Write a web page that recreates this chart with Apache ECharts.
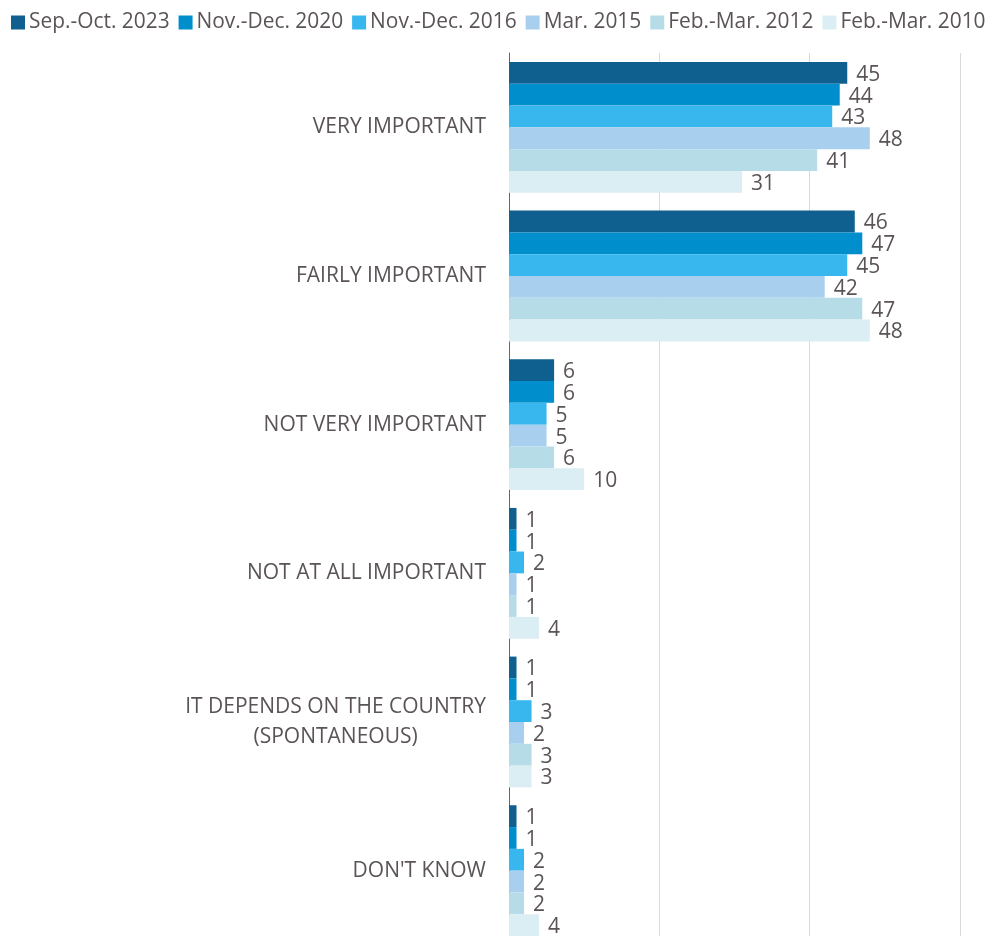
<!DOCTYPE html>
<html>
<head>
<meta charset="utf-8">
<script src="https://cdn.jsdelivr.net/npm/echarts@6/dist/echarts.min.js"></script>
<style>
  html, body { margin: 0; padding: 0; background: #ffffff; overflow: hidden; }
  #chart { width: 992px; height: 960px; }
</style>
</head>
<body>
<div id="chart"></div>
<script>
// Answer categories, top to bottom
const categories = [
  'VERY IMPORTANT',
  'FAIRLY IMPORTANT',
  'NOT VERY IMPORTANT',
  'NOT AT ALL IMPORTANT',
  'IT DEPENDS ON THE COUNTRY\n(SPONTANEOUS)',
  "DON'T KNOW"
];

// Survey waves (legend order)
const waves = [
  'Sep.-Oct. 2023',
  'Nov.-Dec. 2020',
  'Nov.-Dec. 2016',
  'Mar. 2015',
  'Feb.-Mar. 2012',
  'Feb.-Mar. 2010'
];

// Percentages per wave, one value per category
const sepOct2023 = [45, 46, 6, 1, 1, 1];
const novDec2020 = [44, 47, 6, 1, 1, 1];
const novDec2016 = [43, 45, 5, 2, 3, 2];
const mar2015    = [48, 42, 5, 1, 2, 2];
const febMar2012 = [41, 47, 6, 1, 3, 2];
const febMar2010 = [31, 48, 10, 4, 3, 4];

const waveValues = [sepOct2023, novDec2020, novDec2016, mar2015, febMar2012, febMar2010];
const waveColors = ['#0f5f8f', '#008fcc', '#38b7ef', '#a9cfef', '#b6dde7', '#dbeef3'];

const textColor = '#5b5456';
const fontFamily = '"Open Sans", "Noto Sans", sans-serif';

const chart = echarts.init(document.getElementById('chart'), null, { renderer: 'canvas' });

chart.setOption({
  animation: false,
  textStyle: { fontFamily: fontFamily, color: textColor },
  legend: {
    top: 7,
    left: 6,
    itemWidth: 14,
    itemHeight: 14,
    itemGap: 9,
    icon: 'rect',
    textStyle: { fontSize: 20.9, color: textColor, fontFamily: fontFamily, padding: [0, 0, 0, -1] },
    data: waves
  },
  grid: {
    left: 509,
    top: 53,
    width: 451,
    height: 892,
    containLabel: false
  },
  xAxis: {
    type: 'value',
    min: 0,
    max: 60,
    interval: 20,
    axisLabel: { show: false },
    axisLine: { show: false },
    axisTick: { show: false },
    splitLine: { show: true, lineStyle: { color: '#d9d9d9', width: 1 } }
  },
  yAxis: {
    type: 'category',
    inverse: true,
    data: categories,
    axisTick: { show: false },
    axisLine: { show: true, lineStyle: { color: '#6d6466', width: 1 } },
    axisLabel: {
      fontSize: 21,
      color: textColor,
      fontFamily: fontFamily,
      margin: 23,
      align: 'right',
      lineHeight: 30,
      // multi-line labels keep their lines centred on each other
      formatter: (value) => value.split('\n').map((line) => '{c|' + line + '}').join('\n'),
      rich: {
        c: { align: 'center', fontSize: 21, lineHeight: 30, color: textColor, fontFamily: fontFamily }
      }
    }
  },
  series: waves.map((name, i) => ({
    name: name,
    type: 'bar',
    data: waveValues[i],
    barGap: '0%',
    barCategoryGap: '12%',
    itemStyle: { color: waveColors[i] },
    label: {
      show: true,
      position: 'right',
      distance: 9,
      offset: [0, 2],
      fontSize: 21,
      color: textColor,
      fontFamily: fontFamily
    }
  }))
});
</script>
</body>
</html>
